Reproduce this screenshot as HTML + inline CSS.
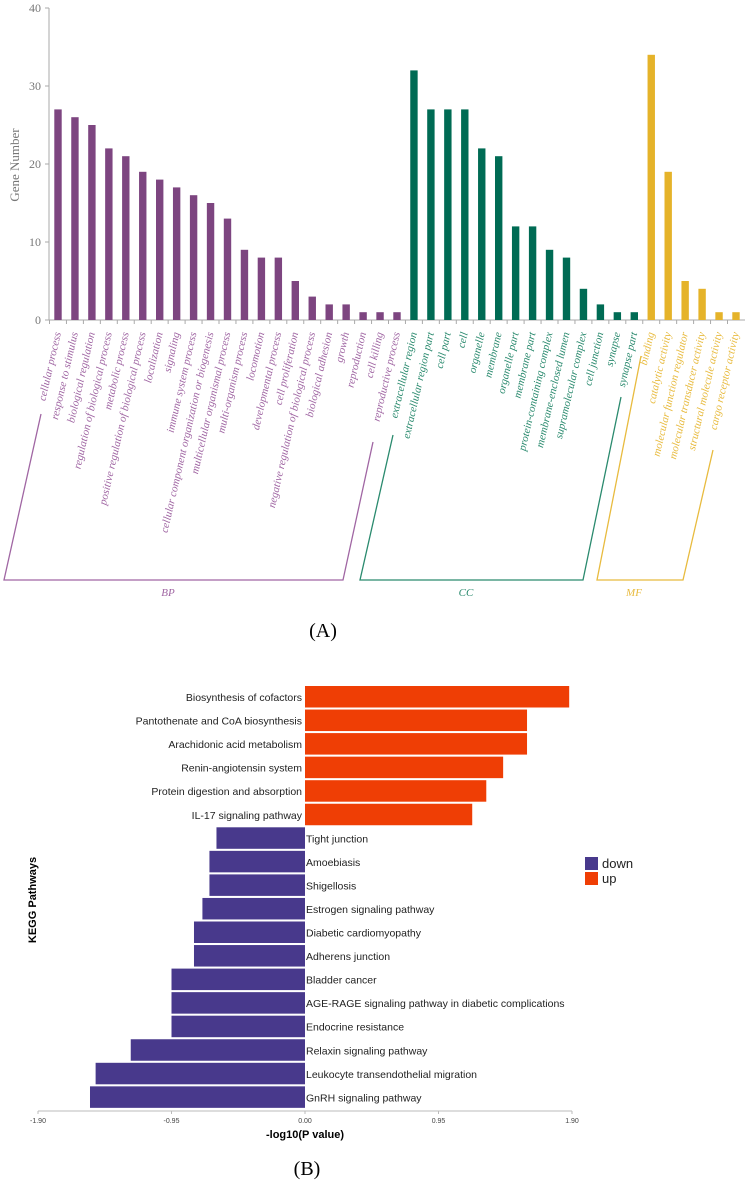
<!DOCTYPE html>
<html><head><meta charset="utf-8"><style>
body{margin:0;background:#fff;width:750px;height:1183px;overflow:hidden}
svg{display:block}
</style></head><body>
<svg id="fig" width="750" height="1183" viewBox="0 0 750 1183" xmlns="http://www.w3.org/2000/svg">
<g id="chartA"></g>
<g id="chartB"></g>
</svg>
<script>
const goTerms = ["cellular process","response to stimulus","biological regulation","regulation of biological process","metabolic process","positive regulation of biological process","localization","signaling","immune system process","cellular component organization or biogenesis","multicellular organismal process","multi-organism process","locomotion","developmental process","cell proliferation","negative regulation of biological process","biological adhesion","growth","reproduction","cell killing","reproductive process","extracellular region","extracellular region part","cell part","cell","organelle","membrane","organelle part","membrane part","protein-containing complex","membrane-enclosed lumen","supramolecular complex","cell junction","synapse","synapse part","binding","catalytic activity","molecular function regulator","molecular transducer activity","structural molecule activity","cargo receptor activity"];
const goCounts = [27,26,25,22,21,19,18,17,16,15,13,9,8,8,5,3,2,2,1,1,1,32,27,27,27,22,21,12,12,9,8,4,2,1,1,34,19,5,4,1,1];
const goGroups = ["BP","BP","BP","BP","BP","BP","BP","BP","BP","BP","BP","BP","BP","BP","BP","BP","BP","BP","BP","BP","BP","CC","CC","CC","CC","CC","CC","CC","CC","CC","CC","CC","CC","CC","CC","MF","MF","MF","MF","MF","MF"];
const goTicks = [0,10,20,30,40];

const keggNames = ["Biosynthesis of cofactors","Pantothenate and CoA biosynthesis","Arachidonic acid metabolism","Renin-angiotensin system","Protein digestion and absorption","IL-17 signaling pathway","Tight junction","Amoebiasis","Shigellosis","Estrogen signaling pathway","Diabetic cardiomyopathy","Adherens junction","Bladder cancer","AGE-RAGE signaling pathway in diabetic complications","Endocrine resistance","Relaxin signaling pathway","Leukocyte transendothelial migration","GnRH signaling pathway"];
const keggValues = [1.88,1.58,1.58,1.41,1.29,1.19,-0.63,-0.68,-0.68,-0.73,-0.79,-0.79,-0.95,-0.95,-0.95,-1.24,-1.49,-1.53];
const keggTicks = [-1.90,-0.95,0.00,0.95,1.90];

const NS="http://www.w3.org/2000/svg";
function mk(tag,attrs,parent,txt){const e=document.createElementNS(NS,tag);for(const k in attrs)e.setAttribute(k,attrs[k]);if(txt!==undefined)e.textContent=txt;parent.appendChild(e);return e;}

// ---- Chart A ----
const A=document.getElementById('chartA');
const ax0=49, ay0=320, ayTop=8, aMax=40;
const ay=v=>ay0-(v/aMax)*(ay0-ayTop);
const ax=i=>58+i*16.95;
const barCol={BP:"#7d4580",CC:"#006b54",MF:"#e5b32a"};
const lblCol={BP:"#a066a3",CC:"#2a8a6e",MF:"#e8bb3f"};
let l=mk('line',{x1:ax0,y1:ay0,x2:ax0,y2:ayTop,stroke:"#aaa","stroke-width":1},A);

l=mk('line',{x1:ax0,y1:ay0,x2:745,y2:ay0,stroke:"#aaa","stroke-width":1},A);

goTicks.forEach(t=>{
  let tk=mk('line',{x1:ax0-4,y1:ay(t),x2:ax0,y2:ay(t),stroke:"#aaa"},A);
  
  let tx=mk('text',{x:ax0-8,y:ay(t)+4,"text-anchor":"end","font-family":"Liberation Serif, serif","font-size":12,fill:"#777"},A,String(t));
  
});
let yt=mk('text',{x:0,y:0,transform:"translate(19,165) rotate(-90)","text-anchor":"middle","font-family":"Liberation Serif, serif","font-size":13,fill:"#777"},A,"Gene Number");

goCounts.forEach((v,i)=>{
  const g=goGroups[i];
  let b=mk('rect',{x:ax(i)-3.7,y:ay(v),width:7.4,height:ay0-ay(v),fill:barCol[g]},A);
  
  let tk=mk('line',{x1:ax(i)-8.5,y1:ay0,x2:ax(i)-8.5,y2:ay0+4,stroke:"#aaa"},A);
  
  let tx=mk('text',{x:0,y:0,transform:`translate(${ax(i)+3},333) rotate(-77)`,"text-anchor":"end","font-family":"Liberation Serif, serif","font-style":"italic","font-size":11,fill:lblCol[g]},A,goTerms[i]);
  
});
const brackets=[["BP","41,414 4,580 343,580 373,442",168],["CC","393,435 360,580 583,580 621,397",466],["MF","641,356 597,580 683,580 713,450",634]];
brackets.forEach(b=>{
  let p=mk('polyline',{points:b[1],fill:"none",stroke:lblCol[b[0]],"stroke-width":1.3},A);
  
  let t=mk('text',{x:b[2],y:596,"text-anchor":"middle","font-family":"Liberation Serif, serif","font-style":"italic","font-size":11,fill:lblCol[b[0]]},A,b[0]);
  
});
let capA=mk('text',{x:323,y:637,"text-anchor":"middle","font-family":"Liberation Serif, serif","font-size":20,fill:"#000"},A,"(A)");


// ---- Chart B ----
const B=document.getElementById('chartB');
const bx0=305, bUnit=(572-38)/3.8;
const bx=v=>bx0+v*bUnit;
const by=i=>697+i*23.55;
keggValues.forEach((v,i)=>{
  const x1=Math.min(bx(0),bx(v)), w=Math.abs(bx(v)-bx(0));
  let r=mk('rect',{x:x1,y:by(i)-11,width:w,height:21.5,fill:v>0?"#ef3e05":"#48398c"},B);
  
  let t=mk('text',{x:v>0?bx(0)-3:bx(0)+1,y:by(i)+4,"text-anchor":v>0?"end":"start","font-family":"Liberation Sans, sans-serif","font-size":10.5,fill:"#222"},B,keggNames[i]);
  
});
let xa=mk('line',{x1:bx(-1.9),y1:1111,x2:bx(1.9),y2:1111,stroke:"#bbb"},B);

keggTicks.forEach(t=>{
  let tk=mk('line',{x1:bx(t),y1:1111,x2:bx(t),y2:1114,stroke:"#bbb"},B);
  
  let tx=mk('text',{x:bx(t),y:1123,"text-anchor":"middle","font-family":"Liberation Sans, sans-serif","font-size":7,fill:"#444"},B,t.toFixed(2));
  
});
let xt=mk('text',{x:bx(0),y:1138,"text-anchor":"middle","font-family":"Liberation Sans, sans-serif","font-size":11,"font-weight":"bold",fill:"#000"},B,"-log10(P value)");

let ytb=mk('text',{x:0,y:0,transform:"translate(36,900) rotate(-90)","text-anchor":"middle","font-family":"Liberation Sans, sans-serif","font-size":11,"font-weight":"bold",fill:"#000"},B,"KEGG Pathways");

[["down","#48398c",857],["up","#ef3e05",872]].forEach(e=>{
  let s=mk('rect',{x:585,y:e[2],width:13,height:13,fill:e[1]},B);
  
  let t=mk('text',{x:602,y:e[2]+11,"font-family":"Liberation Sans, sans-serif","font-size":13,fill:"#222"},B,e[0]);
  
});
let capB=mk('text',{x:307,y:1175,"text-anchor":"middle","font-family":"Liberation Serif, serif","font-size":20,fill:"#000"},B,"(B)");

</script>
</body></html>
